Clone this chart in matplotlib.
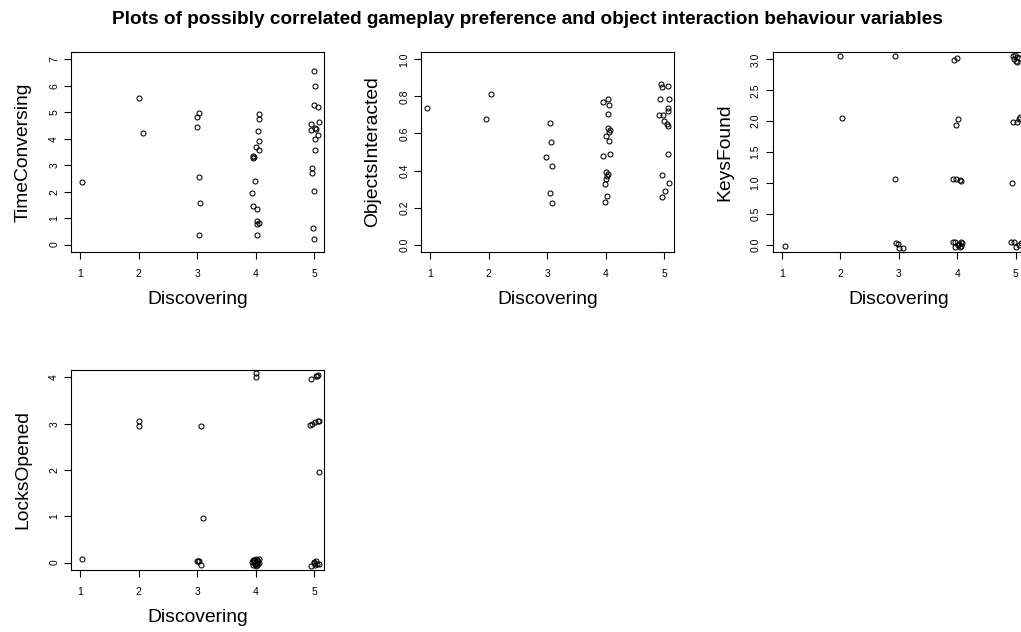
import matplotlib
matplotlib.use("Agg")
import matplotlib.pyplot as plt
from matplotlib.ticker import FormatStrFormatter

plt.rcParams["font.family"] = ["Liberation Sans", "DejaVu Sans"]

# Discovering preference score (jittered) against each behaviour variable
tc_x = [1.02, 2.00, 2.07, 3.03, 3.00, 2.99, 3.03, 3.04, 3.03,
        4.05, 4.06, 4.04, 4.06, 4.00, 4.05, 3.95, 3.95, 3.97, 3.99, 3.94, 3.96, 4.03, 4.03, 4.02, 4.06, 4.02,
        4.99, 5.01, 5.00, 5.07, 5.09, 4.94, 5.02, 4.95, 5.03, 5.07, 5.02, 5.02, 4.97, 4.97, 4.99, 4.98, 5.00]
tc_y = [2.36, 5.53, 4.23, 4.98, 4.81, 4.45, 2.57, 1.59, 0.38,
        4.94, 4.73, 4.31, 3.90, 3.69, 3.56, 3.34, 3.29, 3.31, 2.39, 1.95, 1.47, 1.33, 0.91, 0.78, 0.81, 0.35,
        6.56, 5.99, 5.27, 5.21, 4.64, 4.54, 4.42, 4.32, 4.36, 4.13, 4.01, 3.59, 2.89, 2.69, 2.01, 0.64, 0.23]

oi_x = [0.95, 2.04, 1.96, 3.04, 3.07, 2.98, 3.08, 3.04, 3.08,
        3.96, 4.04, 4.06, 4.04, 4.04, 4.07, 4.06, 4.00, 4.05, 3.95, 4.07, 4.01, 4.04, 4.03, 4.00, 3.98, 4.03, 3.98,
        4.94, 4.97, 5.06, 4.93, 5.09, 5.07, 5.06, 4.91, 4.98, 5.00, 5.05, 5.06, 5.07, 4.96, 5.09, 5.01, 4.97]
oi_y = [0.735, 0.812, 0.680, 0.655, 0.554, 0.473, 0.424, 0.276, 0.226,
        0.771, 0.787, 0.753, 0.704, 0.630, 0.621, 0.610, 0.587, 0.560, 0.478, 0.487, 0.392, 0.383, 0.368, 0.356,
        0.329, 0.260, 0.231,
        0.865, 0.850, 0.854, 0.787, 0.785, 0.740, 0.720, 0.700, 0.699, 0.666, 0.653, 0.641, 0.487, 0.374, 0.334,
        0.287, 0.258]

kf_x = [1.05, 1.99, 2.03, 2.93, 2.93, 2.96, 2.99, 3.01, 3.07,
        3.94, 4.00, 3.98, 4.02, 3.93, 3.98, 4.04, 4.06, 3.93, 3.97, 3.97, 4.03, 4.06, 4.09, 4.04, 4.07, 4.02,
        4.96, 4.99, 5.02, 4.98, 5.00, 5.03, 5.06, 4.96, 5.03, 5.06, 5.07, 4.94, 4.92, 4.98, 5.01, 5.06, 5.09]
kf_y = [-0.03, 3.05, 2.05, 3.05, 1.06, 0.03, 0.01, -0.05, -0.05,
        2.99, 3.03, 1.94, 2.03, 1.07, 1.06, 1.04, 1.03, 0.04, 0.05, -0.04, 0.01, 0.04, 0.02, -0.04, -0.02, 0.00,
        3.05, 3.07, 3.04, 3.00, 2.97, 2.95, 3.02, 1.98, 1.99, 2.04, 2.06, 0.99, 0.04, 0.05, -0.04, 0.00, 0.02]

lo_x = [1.02, 2.01, 2.01, 3.06, 3.09, 2.99, 3.01, 3.03, 3.07,
        4.00, 4.00, 3.94, 3.96, 3.98, 4.00, 4.02, 4.04, 4.06, 3.95, 3.99, 4.03, 4.05, 3.97, 4.01, 4.02, 3.97,
        4.94, 5.03, 5.05, 5.06, 4.93, 4.97, 5.02, 5.06, 5.08, 5.09, 4.94, 4.99, 5.01, 5.03, 5.05, 5.08, 5.00]
lo_y = [0.08, 3.05, 2.96, 2.95, 0.96, 0.04, 0.04, 0.04, -0.06,
        4.09, 4.01, 0.02, 0.05, -0.03, 0.07, 0.06, 0.03, 0.07, -0.06, -0.01, -0.05, 0.00, 0.04, -0.08, -0.04, 0.06,
        3.96, 4.02, 4.04, 4.05, 2.98, 3.00, 3.04, 3.06, 3.06, 1.96, -0.08, 0.02, -0.05, 0.03, -0.02, -0.03, 0.00]

x_label = "Discovering"
x_ticks = [1, 2, 3, 4, 5]

panels = [
    # (x, y, ylabel, ylim range, yticks, tick format, left px, top px)
    (tc_x, tc_y, "TimeConversing", (0, 7), [0, 1, 2, 3, 4, 5, 6, 7], "%d", 71, 52),
    (oi_x, oi_y, "ObjectsInteracted", (0, 1), [0.0, 0.2, 0.4, 0.6, 0.8, 1.0], "%.1f", 421, 52),
    (kf_x, kf_y, "KeysFound", (0, 3), [0.0, 0.5, 1.0, 1.5, 2.0, 2.5, 3.0], "%.1f", 772.5, 52),
    (lo_x, lo_y, "LocksOpened", (0, 4), [0, 1, 2, 3, 4], "%d", 71, 370),
]

W, H = 1021, 632
fig = plt.figure(figsize=(W / 100, H / 100), dpi=100)
fig.patch.set_facecolor("white")

AX_W, AX_H = 252.5, 200

def pad_range(lo, hi):
    d = (hi - lo) * 0.04
    return lo - d, hi + d

for xs, ys, ylab, yr, yt, fmt, left, top in panels:
    ax = fig.add_axes([left / W, 1 - (top + AX_H) / H, AX_W / W, AX_H / H])
    ax.plot(xs, ys, linestyle="none", marker="o", markersize=3.6,
            markerfacecolor="none", markeredgecolor="black", markeredgewidth=0.75,
            clip_on=True)
    ax.set_xlim(*pad_range(1, 5))
    ax.set_ylim(*pad_range(*yr))
    ax.set_xticks(x_ticks)
    ax.set_yticks(yt)
    ax.yaxis.set_major_formatter(FormatStrFormatter(fmt))
    for s in ax.spines.values():
        s.set_linewidth(0.8)
        s.set_color("black")
    ax.tick_params(axis="both", direction="out", length=5, width=0.8,
                   labelsize=7.5, colors="black")
    ax.tick_params(axis="x", pad=7.5)
    ax.tick_params(axis="y", pad=3.5, labelrotation=90)
    for lab in ax.get_yticklabels():
        lab.set_verticalalignment("center")
    ax.set_xlabel(x_label, fontsize=13.9)
    ax.xaxis.label.set_verticalalignment("center")
    ax.xaxis.set_label_coords(0.5, -47 / AX_H)
    ax.set_ylabel(ylab, fontsize=13.9)
    ax.yaxis.label.set_verticalalignment("center")
    ax.yaxis.set_label_coords(-48 / AX_W, 0.5)

fig.text(527 / W, 1 - 24 / H, "Plots of possibly correlated gameplay preference and object interaction behaviour variables",
         ha="center", va="baseline", fontsize=13.7, fontweight="bold")

fig.savefig("out.png", dpi=100, facecolor="white")
